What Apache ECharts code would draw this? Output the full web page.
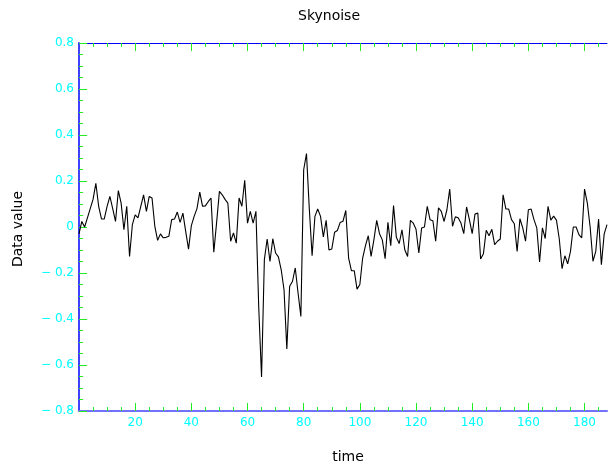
<!DOCTYPE html>
<html>
<head>
<meta charset="utf-8">
<script src="https://cdn.jsdelivr.net/npm/echarts@6/dist/echarts.min.js"></script>
<style>
  html, body { margin: 0; padding: 0; background: #ffffff; }
  #chart { width: 609px; height: 466px; }
</style>
</head>
<body>
<div id="chart"></div>
<script>
// Labels
const chartTitle = 'Skynoise';
const xTitle = 'time';
const yTitle = 'Data value';

// Sky noise samples, one per time step starting at t = 0
const skynoise = [
  -0.03, 0.024, 0.0, 0.04, 0.08, 0.12, 0.19, 0.09, 0.035, 0.035,
  0.09, 0.133, 0.08, 0.024, 0.158, 0.104, -0.012, 0.09, -0.128, 0.01,
  0.053, 0.04, 0.09, 0.14, 0.068, 0.133, 0.126, 0.003, -0.058, -0.03,
  -0.047, -0.045, -0.04, 0.032, 0.035, 0.065, 0.02, 0.06, -0.02, -0.096,
  0.006, 0.046, 0.08, 0.152, 0.09, 0.092, 0.11, 0.126, -0.11, 0.02,
  0.155, 0.14, 0.12, 0.104, -0.062, -0.026, -0.07, 0.126, 0.09, 0.203,
  0.017, 0.068, 0.017, 0.068, -0.35, -0.652, -0.142, -0.052, -0.15, -0.051,
  -0.113, -0.13, -0.186, -0.273, -0.53, -0.258, -0.237, -0.178, -0.287, -0.389,
  0.249, 0.319, 0.08, -0.125, 0.046, 0.078, 0.046, -0.043, 0.029, -0.1,
  -0.096, -0.023, -0.015, 0.02, 0.025, 0.072, -0.135, -0.19, -0.19, -0.27,
  -0.25, -0.135, -0.081, -0.038, -0.128, -0.056, 0.029, -0.029, -0.056, -0.138,
  0.02, -0.081, 0.093, -0.045, -0.072, -0.012, -0.099, -0.128, 0.029, 0.017,
  -0.01, -0.113, -0.004, 0.0, 0.09, 0.032, 0.027, -0.062, 0.083, 0.068,
  0.024, 0.075, 0.165, 0.003, 0.044, 0.04, 0.017, -0.029, 0.087, 0.032,
  -0.029, 0.056, 0.061, -0.139, -0.116, -0.014, -0.038, -0.01, -0.077, -0.062,
  -0.052, 0.14, 0.078, 0.078, 0.032, 0.014, -0.106, 0.036, -0.004, -0.062,
  0.075, 0.078, 0.032, -0.004, -0.152, -0.004, -0.05, 0.09, 0.03, 0.047,
  0.03, -0.051, -0.181, -0.125, -0.16, -0.106, 0.0, 0.0, -0.033, -0.047,
  0.165, 0.104, 0.0, -0.149, -0.106, 0.035, -0.164, -0.03, 0.01
];

// Axis ranges and tick positions
const xRange = [0, 188];
const xMajorTicks = [20, 40, 60, 80, 100, 120, 140, 160, 180];
const xMinorTicks = [5, 10, 15, 25, 30, 35, 45, 50, 55, 65, 70, 75, 85, 90, 95,
  105, 110, 115, 125, 130, 135, 145, 150, 155, 165, 170, 175, 185];
const yRange = [-0.8, 0.8];
const yStep = 0.2;

const FONT = 'DejaVu Sans';
const LABEL_COLOR = '#00ffff';
const TICK_COLOR = '#22ee22';

function tickAxis(position, ticks, len, withLine, lineColor, lineWidth, withLabels) {
  return {
    type: 'value',
    position: position,
    min: xRange[0],
    max: xRange[1],
    axisLine: { show: withLine, onZero: false, lineStyle: { color: lineColor, width: lineWidth } },
    axisTick: { show: true, inside: true, length: len, customValues: ticks,
      lineStyle: { color: TICK_COLOR, width: 1 } },
    axisLabel: withLabels
      ? { show: true, customValues: ticks, color: LABEL_COLOR, fontFamily: FONT, fontSize: 12, margin: 6 }
      : { show: false },
    splitLine: { show: false }
  };
}

// Y labels use a true minus sign followed by a space
function yLabel(v) {
  const r = Math.round(v * 10) / 10;
  if (r === 0) return '0';
  return r < 0 ? '\u2212 ' + Math.abs(r).toFixed(1) : r.toFixed(1);
}

const chart = echarts.init(document.getElementById('chart'), null, { renderer: 'canvas' });

chart.setOption({
  backgroundColor: '#ffffff',
  animation: false,
  title: {
    text: chartTitle,
    left: 293,
    top: 4,
    textStyle: { fontFamily: FONT, fontSize: 14, fontWeight: 'normal', color: '#000000' }
  },
  grid: { left: 79, right: 2, top: 43, bottom: 55, containLabel: false },
  xAxis: [
    tickAxis('bottom', xMajorTicks, 8, true, '#7272ff', 2, true),
    tickAxis('bottom', xMinorTicks, 4, false, '#7272ff', 2, false),
    tickAxis('top', xMajorTicks, 8, true, '#0000ff', 1, false),
    tickAxis('top', xMinorTicks, 4, false, '#0000ff', 1, false)
  ],
  yAxis: {
    type: 'value',
    min: yRange[0],
    max: yRange[1],
    interval: yStep,
    axisLine: { show: true, onZero: false, lineStyle: { color: '#4040ff', width: 2 } },
    axisTick: { show: true, inside: true, length: 8, lineStyle: { color: TICK_COLOR, width: 1 } },
    minorTick: { show: true, splitNumber: 4, length: 4, lineStyle: { color: TICK_COLOR, width: 1 } },
    axisLabel: { color: LABEL_COLOR, fontFamily: FONT, fontSize: 12, margin: 5, formatter: yLabel },
    splitLine: { show: false },
    minorSplitLine: { show: false }
  },
  graphic: [
    {
      type: 'text', x: 348, y: 457,
      style: { text: xTitle, fill: '#000000', font: '14px "DejaVu Sans"',
        textAlign: 'center', textVerticalAlign: 'middle' }
    },
    {
      type: 'text', x: 18, y: 229, rotation: Math.PI / 2,
      style: { text: yTitle, fill: '#000000', font: '14px "DejaVu Sans"',
        textAlign: 'center', textVerticalAlign: 'middle' }
    }
  ],
  series: [{
    type: 'line',
    xAxisIndex: 0,
    yAxisIndex: 0,
    data: skynoise.map((v, t) => [t, v]),
    symbol: 'none',
    silent: true,
    lineStyle: { color: '#000000', width: 1.1 }
  }]
});
</script>
</body>
</html>
